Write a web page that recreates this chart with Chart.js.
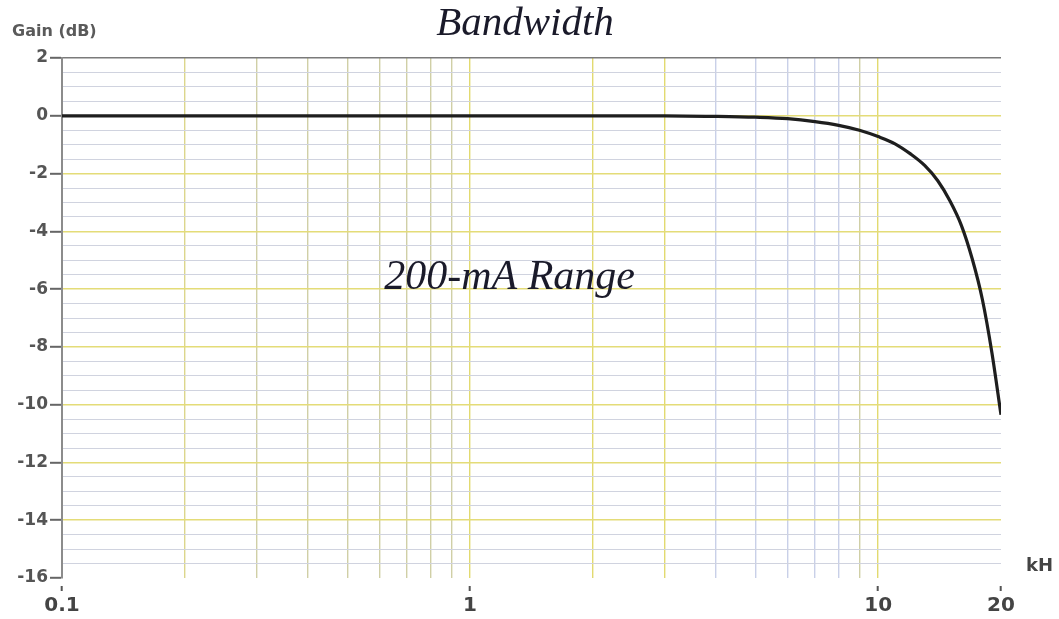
<!DOCTYPE html>
<html>
<head>
<meta charset="utf-8">
<script src="https://cdn.jsdelivr.net/npm/chart.js@4.4.0/dist/chart.umd.min.js"></script>
<style>
  body { margin: 0; background: #fff; }
</style>
</head>
<body>
<canvas id="bandwidthChart" width="1059" height="619"></canvas>
<script>
// Frequência (kHz) x ganho (dB)
const freqs = [0.1, 0.5, 1, 2, 3, 4, 5, 6, 7, 8, 9, 10, 11, 12, 13, 14, 15, 16, 17, 18, 19, 20];
const gains = [0, 0, 0, 0, 0, -0.02, -0.05, -0.1, -0.2, -0.33, -0.5, -0.72, -0.97, -1.32, -1.72, -2.25, -2.95, -3.8, -4.95, -6.35, -8.2, -10.35];

// linhas verticais da grade e rótulos dos eixos
const xGrid = [0.1, 0.2, 0.3, 0.4, 0.5, 0.6, 0.7, 0.8, 0.9, 1, 2, 3, 4, 5, 6, 7, 8, 9, 10, 20];
const xLabels = [0.1, 1, 10, 20];
const yLabels = [2, 0, -2, -4, -6, -8, -10, -12, -14, -16];

const textos = {
    titulo: 'Bandwidth',
    eixoY: 'Gain (dB)',
    eixoX: 'kH',
    nota: '200-mA Range'
};

function temRotulo(lista, v) {
    return lista.some(l => Math.abs(l - v) < 1e-6);
}

function corVertical(v) {
    if (temRotulo([0.1, 20], v)) return 'rgba(0,0,0,0)';
    if (temRotulo([1, 10, 2, 3], v)) return '#e2da70';
    if (temRotulo([0.2], v)) return '#dcd68c';
    if (v >= 3.5 && v <= 8.5) return '#c9d0e8';
    return '#d0cfa6';
}

function corHorizontal(v) {
    if (Math.abs(v - 2) < 1e-6) return '#7a7a7a';
    if (Math.abs(v + 16) < 1e-6) return 'rgba(0,0,0,0)';
    if (temRotulo(yLabels, v)) return '#e4dc78';
    return '#d0d3df';
}

const textoPlugin = {
    id: 'textos',
    afterDraw(chart) {
        const ctx = chart.ctx;
        ctx.save();
        ctx.fillStyle = '#1a1a2a';
        ctx.font = 'italic 41px "Liberation Serif"';
        ctx.textAlign = 'center';
        ctx.textBaseline = 'alphabetic';
        ctx.fillText(textos.titulo, 525, 35);

        const x = chart.scales.x.getPixelForValue(1.25);
        const y = chart.scales.y.getPixelForValue(-5.6);
        ctx.textBaseline = 'middle';
        ctx.font = 'italic 42px "Liberation Serif"';
        ctx.fillText(textos.nota, x, y);

        ctx.fillStyle = '#5a5a5a';
        ctx.textAlign = 'left';
        ctx.font = 'bold 16px "DejaVu Sans"';
        ctx.fillText(textos.eixoY, 12, 32);

        ctx.fillStyle = '#444';
        ctx.font = 'bold 18px "DejaVu Sans"';
        ctx.fillText(textos.eixoX, 1026, 566);
        ctx.restore();
    }
};

new Chart(document.getElementById('bandwidthChart'), {
    type: 'scatter',
    data: {
        datasets: [{
            label: 'Gain',
            data: freqs.map((f, i) => ({ x: f, y: gains[i] })),
            showLine: true,
            borderColor: '#1e1e1e',
            borderWidth: 3.2,
            pointRadius: 0,
            cubicInterpolationMode: 'monotone'
        }]
    },
    options: {
        responsive: false,
        animation: false,
        layout: {
            padding: { top: 58, right: 58, left: 0, bottom: 0 }
        },
        plugins: {
            legend: { display: false },
            tooltip: { enabled: false }
        },
        scales: {
            x: {
                type: 'logarithmic',
                min: 0.1,
                max: 20,
                afterFit: scale => { scale.height = 41; },
                afterBuildTicks: scale => {
                    scale.ticks = xGrid.map(v => ({ value: v }));
                },
                border: { display: false },
                grid: {
                    color: ctx => corVertical(ctx.tick.value),
                    lineWidth: 1.4,
                    tickLength: 13,
                    tickColor: ctx => temRotulo(xLabels, ctx.tick.value) ? '#555' : 'rgba(0,0,0,0)',
                    tickWidth: 2,
                    tickBorderDash: [0, 8, 5, 100]
                },
                ticks: {
                    autoSkip: false,
                    maxRotation: 0,
                    padding: 3,
                    color: '#444',
                    font: { family: 'DejaVu Sans', size: 20, weight: 'bold' },
                    callback: v => temRotulo(xLabels, v) ? String(v) : ''
                }
            },
            y: {
                min: -16,
                max: 2,
                afterFit: scale => { scale.width = 62; },
                border: { color: '#8c8c8c', width: 2 },
                grid: {
                    color: ctx => corHorizontal(ctx.tick.value),
                    lineWidth: ctx => temRotulo(yLabels, ctx.tick.value) ? 1.6 : 1,
                    tickLength: 12,
                    tickColor: ctx => temRotulo(yLabels, ctx.tick.value) ? '#666' : 'rgba(0,0,0,0)',
                    tickWidth: 2
                },
                ticks: {
                    stepSize: 0.5,
                    autoSkip: false,
                    padding: 2,
                    color: '#555',
                    font: { family: 'DejaVu Sans', size: 17, weight: 'bold' },
                    callback: v => temRotulo(yLabels, v) ? String(Math.round(v)) : ''
                }
            }
        }
    },
    plugins: [textoPlugin]
});
</script>
</body>
</html>
